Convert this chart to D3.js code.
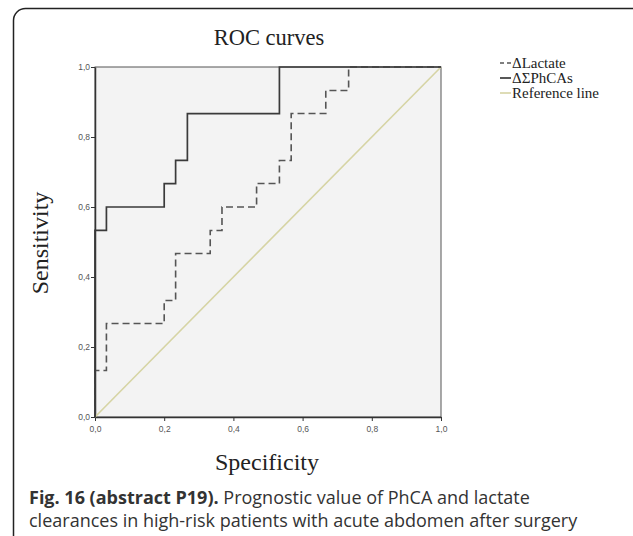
<!DOCTYPE html>
<html>
<head>
<meta charset="utf-8">
<script src="https://cdn.jsdelivr.net/npm/d3@7"></script>
<style>
  body { margin: 0; background: #fff; }
  svg { display: block; }
</style>
</head>
<body>
<div id="chart-holder"></div>
<script>
// DATA
// ROC points, x = 1 - specificity, y = sensitivity (steps of 1/30 and 1/15)
var lactateX = [0, 0, 0.033, 0.2, 0.233, 0.333, 0.367, 0.467, 0.533, 0.567, 0.667, 0.733, 1];
var lactateY = [0, 0.133, 0.267, 0.333, 0.467, 0.533, 0.6, 0.667, 0.733, 0.867, 0.933, 1, 1];
var phcaX = [0, 0, 0.033, 0.2, 0.233, 0.267, 0.533, 1];
var phcaY = [0, 0.533, 0.6, 0.667, 0.733, 0.867, 1, 1];
var refX = [0, 1];
var refY = [0, 1];
var ticks = [0, 0.2, 0.4, 0.6, 0.8, 1.0];
var legendNames = ["\u0394Lactate", "\u0394\u03A3PhCAs", "Reference line"];

// SIZES
var w = 633, h = 536;
var plot = { left: 95, right: 441, top: 67, bottom: 417 };

var svg = d3.select("#chart-holder")
  .append("svg")
  .attr("width", w)
  .attr("height", h);

// outer rounded frame (bottom runs off the picture)
svg.append("rect")
  .attr("x", 13.5).attr("y", 8.5)
  .attr("width", 640).attr("height", 560)
  .attr("rx", 12).attr("ry", 12)
  .attr("fill", "none")
  .attr("stroke", "#222")
  .attr("stroke-width", 1.5);

// scales
var x = d3.scaleLinear().domain([0, 1]).range([plot.left, plot.right]);
var y = d3.scaleLinear().domain([0, 1]).range([plot.bottom, plot.top]);

// plot background
svg.append("rect")
  .attr("x", plot.left).attr("y", plot.top)
  .attr("width", plot.right - plot.left)
  .attr("height", plot.bottom - plot.top)
  .attr("fill", "#f3f3f3")
  .attr("stroke", "#555")
  .attr("stroke-width", 1);

var fmt = function (d) { return d3.format(".1f")(d).replace(".", ","); };

// axes
var xAxis = svg.append("g")
  .attr("transform", "translate(0," + plot.bottom + ")")
  .call(d3.axisBottom(x).tickValues(ticks).tickFormat(fmt).tickSize(4).tickSizeOuter(0));
var yAxis = svg.append("g")
  .attr("transform", "translate(" + plot.left + ",0)")
  .call(d3.axisLeft(y).tickValues(ticks).tickFormat(fmt).tickSize(4).tickSizeOuter(0));

[xAxis, yAxis].forEach(function (a) {
  a.select(".domain").attr("stroke", "#333").attr("stroke-width", 1.5);
  a.selectAll(".tick line").attr("stroke", "#333");
  a.selectAll(".tick text")
    .attr("fill", "#555")
    .style("font-family", "Liberation Sans, Arial, sans-serif")
    .style("font-size", "8.5px");
});
xAxis.selectAll(".tick text").attr("dy", "0.9em");
yAxis.selectAll(".tick text").attr("x", -5);

// lines
var stepLine = d3.line()
  .x(function (d) { return x(d[0]); })
  .y(function (d) { return y(d[1]); })
  .curve(d3.curveStepAfter);

svg.append("path")
  .datum(d3.zip(refX, refY))
  .attr("d", d3.line().x(function (d) { return x(d[0]); }).y(function (d) { return y(d[1]); }))
  .attr("fill", "none")
  .attr("stroke", "#d6d4a4")
  .attr("stroke-width", 1.6);

svg.append("path")
  .datum(d3.zip(lactateX, lactateY))
  .attr("d", stepLine)
  .attr("fill", "none")
  .attr("stroke", "#555")
  .attr("stroke-width", 1.6)
  .attr("stroke-dasharray", "7,4");

svg.append("path")
  .datum(d3.zip(phcaX, phcaY))
  .attr("d", stepLine)
  .attr("fill", "none")
  .attr("stroke", "#3a3a3a")
  .attr("stroke-width", 1.7);

// title and axis labels
var serif = "Liberation Serif, Times New Roman, serif";
svg.append("text")
  .attr("x", 269).attr("y", 45)
  .attr("text-anchor", "middle")
  .style("font-family", serif).style("font-size", "22.5px")
  .attr("fill", "#222")
  .text("ROC curves");

svg.append("text")
  .attr("x", 267).attr("y", 470)
  .attr("text-anchor", "middle")
  .style("font-family", serif).style("font-size", "24px")
  .attr("fill", "#222")
  .text("Specificity");

svg.append("text")
  .attr("transform", "translate(48,243) rotate(-90)")
  .attr("text-anchor", "middle")
  .style("font-family", serif).style("font-size", "24px")
  .attr("fill", "#222")
  .text("Sensitivity");

// legend
var legendStyles = [
  { stroke: "#555", dash: "4,3", width: 1.6 },
  { stroke: "#3a3a3a", dash: null, width: 1.7 },
  { stroke: "#d6d4a4", dash: null, width: 1.6 }
];
var legend = svg.append("g").attr("transform", "translate(500,59)");
legendNames.forEach(function (name, i) {
  var g = legend.append("g").attr("transform", "translate(0," + (i * 15) + ")");
  g.append("line")
    .attr("x1", 0).attr("x2", 11)
    .attr("y1", 4).attr("y2", 4)
    .attr("stroke", legendStyles[i].stroke)
    .attr("stroke-width", legendStyles[i].width)
    .attr("stroke-dasharray", legendStyles[i].dash);
  g.append("text")
    .attr("x", 12).attr("y", 0)
    .attr("dy", "0.6em")
    .style("font-family", serif).style("font-size", "15px")
    .attr("fill", "#222")
    .text(name);
});

// caption
var cap = svg.append("text")
  .attr("x", 29).attr("y", 504)
  .style("font-family", "Open Sans, sans-serif").style("font-size", "18px")
  .attr("fill", "#333");
cap.append("tspan").style("font-weight", "bold").text("Fig. 16 (abstract P19).");
cap.append("tspan").text(" Prognostic value of PhCA and lactate");
svg.append("text")
  .attr("x", 29).attr("y", 527)
  .style("font-family", "Open Sans, sans-serif").style("font-size", "18px")
  .attr("fill", "#333")
  .text("clearances in high-risk patients with acute abdomen after surgery");
</script>
</body>
</html>
